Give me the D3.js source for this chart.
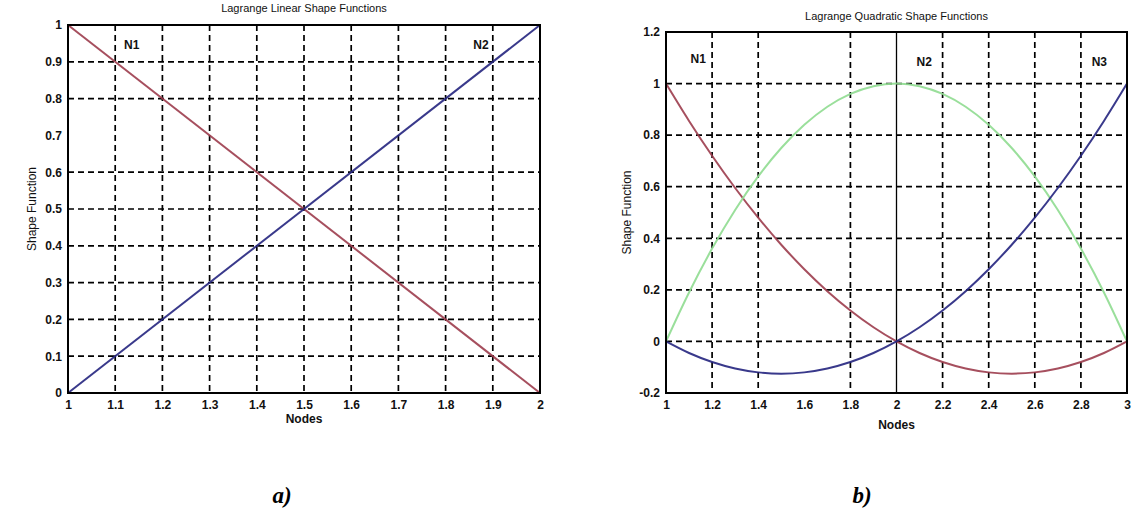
<!DOCTYPE html>
<html><head><meta charset="utf-8">
<script src="https://cdn.jsdelivr.net/npm/d3@7"></script>
<style>
body{margin:0;background:#fff;}
svg text.sans{font-family:"Liberation Sans",Arial,sans-serif;}
svg text.serif{font-family:"Liberation Serif","Times New Roman",serif;}
</style></head>
<body><svg id="c" width="1133" height="508"></svg>
<script>
// ---- Data ----
const linX = [1, 2];
const linN1 = [1, 0];
const linN2 = [0, 1];
const linXTicks = [1,1.1,1.2,1.3,1.4,1.5,1.6,1.7,1.8,1.9,2];
const linYTicks = [0,0.1,0.2,0.3,0.4,0.5,0.6,0.7,0.8,0.9,1];
const linXTickLabels = ["1","1.1","1.2","1.3","1.4","1.5","1.6","1.7","1.8","1.9","2"];
const linYTickLabels = ["0","0.1","0.2","0.3","0.4","0.5","0.6","0.7","0.8","0.9","1"];
const linHGrid = [0.1,0.2,0.3,0.4,0.5,0.6,0.8,0.9];
const linVGrid = [1.1,1.2,1.3,1.4,1.5,1.6,1.7,1.8,1.9];

const quadX  = [1,1.1,1.2,1.3,1.4,1.5,1.6,1.7,1.8,1.9,2,2.1,2.2,2.3,2.4,2.5,2.6,2.7,2.8,2.9,3];
const quadN1 = [1,0.855,0.72,0.595,0.48,0.375,0.28,0.195,0.12,0.055,0,-0.045,-0.08,-0.105,-0.12,-0.125,-0.12,-0.105,-0.08,-0.045,0];
const quadN2 = [0,0.19,0.36,0.51,0.64,0.75,0.84,0.91,0.96,0.99,1,0.99,0.96,0.91,0.84,0.75,0.64,0.51,0.36,0.19,0];
const quadN3 = [0,-0.045,-0.08,-0.105,-0.12,-0.125,-0.12,-0.105,-0.08,-0.045,0,0.055,0.12,0.195,0.28,0.375,0.48,0.595,0.72,0.855,1];
const quadXTicks = [1,1.2,1.4,1.6,1.8,2,2.2,2.4,2.6,2.8,3];
const quadXTickLabels = ["1","1.2","1.4","1.6","1.8","2","2.2","2.4","2.6","2.8","3"];
const quadYTicks = [-0.2,0,0.2,0.4,0.6,0.8,1,1.2];
const quadYTickLabels = ["-0.2","0","0.2","0.4","0.6","0.8","1","1.2"];
const quadHGrid = [0,0.2,0.4,0.6,0.8,1];
const quadVGrid = [1.2,1.4,1.8,2.2,2.4,2.6,2.8];
const quadVSolid = [2];

const colRed = "#9c3c4c", colBlue = "#23237e", colGreen = "#8fdc90";

const svg = d3.select("#c");

function panel(o){
  const g = svg.append("g");
  const x = d3.scaleLinear().domain(o.xd).range([o.l, o.r]);
  const y = d3.scaleLinear().domain(o.yd).range([o.b, o.t]);
  g.selectAll(".hg").data(o.hgrid).enter().append("line")
    .attr("x1", o.l).attr("x2", o.r).attr("y1", d=>y(d)).attr("y2", d=>y(d))
    .attr("stroke","#000").attr("stroke-width",1.7).attr("stroke-dasharray","6,4");
  g.selectAll(".vg").data(o.vgrid).enter().append("line")
    .attr("y1", o.t).attr("y2", o.b).attr("x1", d=>x(d)).attr("x2", d=>x(d))
    .attr("stroke","#000").attr("stroke-width",1.7).attr("stroke-dasharray","6,4");
  g.selectAll(".vs").data(o.vsolid||[]).enter().append("line")
    .attr("y1", o.t).attr("y2", o.b).attr("x1", d=>x(d)).attr("x2", d=>x(d))
    .attr("stroke","#000").attr("stroke-width",1.3);
  const xa = d3.axisBottom(x).tickValues(o.xticks).tickFormat((d,i)=>o.xlabels[i]).tickSize(0).tickPadding(o.xpad);
  const gx = g.append("g").attr("transform",`translate(0,${o.b})`).call(xa);
  gx.select(".domain").remove();
  gx.selectAll("text").attr("class","sans").attr("font-size",12).attr("font-weight","bold").attr("fill","#111");
  const ya = d3.axisLeft(y).tickValues(o.yticks).tickFormat((d,i)=>o.ylabels[i]).tickSize(0).tickPadding(6);
  const gy = g.append("g").attr("transform",`translate(${o.l},0)`).call(ya);
  gy.select(".domain").remove();
  gy.selectAll("text").attr("class","sans").attr("font-size",12).attr("font-weight","bold").attr("fill","#111");
  const line = d3.line().x(d=>x(d[0])).y(d=>y(d[1])).curve(d3.curveMonotoneX);
  o.series.forEach(s=>{
    g.append("path").datum(o.xs.map((v,i)=>[v,s.v[i]]))
      .attr("d",line).attr("fill","none").attr("stroke",s.c).attr("stroke-width",2).attr("opacity",0.9);
  });
  g.append("rect").attr("x",o.l).attr("y",o.t).attr("width",o.r-o.l).attr("height",o.b-o.t)
    .attr("fill","none").attr("stroke","#000").attr("stroke-width",2);
  g.append("text").attr("class","sans").attr("x",(o.l+o.r)/2).attr("y",o.titleY).attr("text-anchor","middle")
    .attr("font-size",11).attr("fill","#111").text(o.title);
  g.append("text").attr("class","sans").attr("x",(o.l+o.r)/2).attr("y",o.xlabY).attr("text-anchor","middle")
    .attr("font-size",12).attr("font-weight","bold").attr("fill","#111").text("Nodes");
  g.append("text").attr("class","sans").attr("transform",`translate(${o.ylabX},${(o.t+o.b)/2}) rotate(-90)`).attr("text-anchor","middle")
    .attr("font-size",12).attr("fill","#111").text(o.ylab);
  o.notes.forEach(n=>{
    g.append("text").attr("class","sans").attr("x",x(n.x)).attr("y",y(n.y)).attr("text-anchor","middle")
      .attr("font-size",12).attr("font-weight","bold").attr("fill","#111").text(n.t);
  });
  return g;
}

panel({l:68,r:540,t:25,b:393,xd:[1,2],yd:[0,1],
  hgrid:linHGrid,vgrid:linVGrid,xticks:linXTicks,xlabels:linXTickLabels,
  yticks:linYTicks,ylabels:linYTickLabels,xpad:7,
  xs:linX,series:[{v:linN1,c:colRed},{v:linN2,c:colBlue}],
  title:"Lagrange Linear Shape Functions",titleY:12,xlabY:423,ylabX:36,ylab:"Shape Function",
  notes:[{x:1.135,y:0.935,t:"N1"},{x:1.875,y:0.935,t:"N2"}]});

panel({l:666,r:1127,t:32,b:393,xd:[1,3],yd:[-0.2,1.2],
  hgrid:quadHGrid,vgrid:quadVGrid,vsolid:quadVSolid,xticks:quadXTicks,xlabels:quadXTickLabels,
  yticks:quadYTicks,ylabels:quadYTickLabels,xpad:7,
  xs:quadX,series:[{v:quadN1,c:colRed},{v:quadN2,c:colGreen},{v:quadN3,c:colBlue}],
  title:"Lagrange Quadratic Shape Functions",titleY:20,xlabY:429,ylabX:631,ylab:"Shape Function",
  notes:[{x:1.14,y:1.08,t:"N1"},{x:2.12,y:1.07,t:"N2"},{x:2.88,y:1.07,t:"N3"}]});

svg.append("text").attr("class","serif").attr("x",282).attr("y",503).attr("text-anchor","middle")
  .attr("font-size",23).attr("font-weight","bold").attr("font-style","italic").text("a)");
svg.append("text").attr("class","serif").attr("x",862).attr("y",503).attr("text-anchor","middle")
  .attr("font-size",23).attr("font-weight","bold").attr("font-style","italic").text("b)");
</script></body></html>
